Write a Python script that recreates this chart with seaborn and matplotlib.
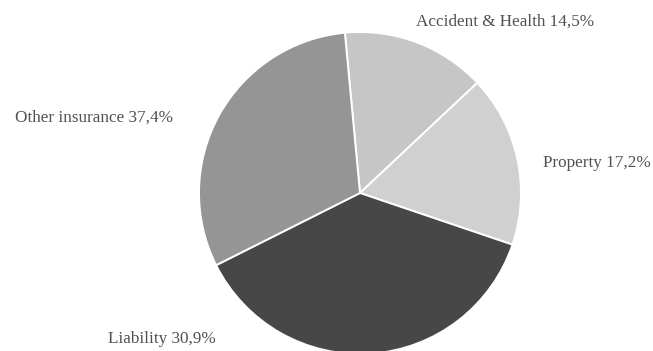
import matplotlib
import matplotlib.pyplot as plt
import seaborn as sns

matplotlib.use('Agg')

# slice data, clockwise from the top
categories = ["Accident & Health", "Property", "Other insurance", "Liability"]
shares = [14.5, 17.2, 37.4, 30.9]
label_texts = ["Accident & Health 14,5%", "Property 17,2%",
               "Other insurance 37,4%", "Liability 30,9%"]
grays = ["#c6c6c6", "#d0d0d0", "#474747", "#959595"]

W, H = 653, 351

sns.set_theme(style="white")
plt.rcParams['font.family'] = ['Liberation Serif', 'DejaVu Serif']

fig = plt.figure(figsize=(W / 100, H / 100), dpi=100)

# pie centre (360, 193) px from top-left, radius ~161 px
cx, cy, r = 360, 193, 161
ax = fig.add_axes([(cx - r) / W, (H - cy - r) / H, 2 * r / W, 2 * r / H])

ax.pie(shares,
       colors=sns.color_palette(grays),
       startangle=95.4,
       counterclock=False,
       wedgeprops=dict(edgecolor='white', linewidth=1.4))
ax.set_xlim(-1, 1)
ax.set_ylim(-1, 1)
ax.axis('off')

# labels as placed in the original layout (pixel centres, from top)
label_pos = {
    "Accident & Health": (505, 22),
    "Property": (597, 163),
    "Other insurance": (94, 118),
    "Liability": (162, 339),
}
for cat, txt in zip(categories, label_texts):
    x, y = label_pos[cat]
    fig.text(x / W, 1 - y / H, txt, ha='center', va='center',
             fontsize=12.3, color='#505050')

fig.savefig('out.png', dpi=100)
